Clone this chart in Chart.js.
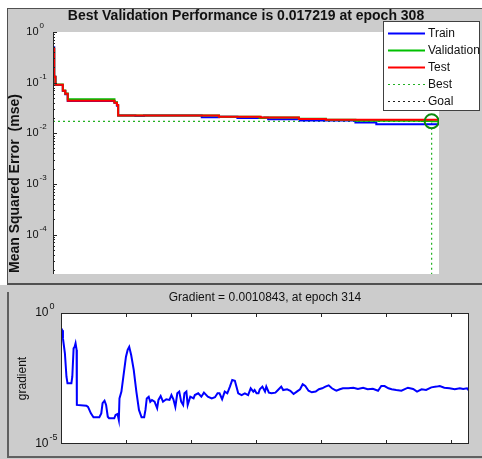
<!DOCTYPE html>
<html>
<head>
<meta charset="utf-8">
<title>Best Validation Performance</title>
<script src="https://cdn.jsdelivr.net/npm/chart.js@4.4.0/dist/chart.umd.min.js"></script>
<style>
    html, body { margin: 0; padding: 0; background: #ffffff; }
    body { position: relative; width: 482px; height: 459px; overflow: hidden; }
    .panel { position: absolute; background: #cccccc; box-sizing: border-box; }
    #top-panel { left: 7px; top: 8px; width: 475px; height: 276px; border-top: 1px solid #505050; border-left: 1px solid #505050; }
    #divider { position: absolute; left: 7px; top: 283px; width: 475px; height: 2px; background: #505050; }
    #bottom-panel { left: 0; top: 285px; width: 482px; height: 174px; }
    #bottom-frame { position: absolute; left: 7px; top: 292px; width: 475px; height: 166px; box-sizing: border-box; border-left: 2px solid #606060; border-bottom: 2px solid #606060; }
    canvas { position: absolute; left: 0; }
    #perf-chart { top: 0; }
    #grad-chart { top: 285px; }
</style>
</head>
<body>
<div class="panel" id="top-panel"></div>
<div class="panel" id="bottom-panel"></div>
<div id="bottom-frame"></div>
<canvas id="perf-chart" width="482" height="283"></canvas>
<div id="divider"></div>
<canvas id="grad-chart" width="482" height="174"></canvas>

<script>
// ---- Performance data (stepped: value holds until the next epoch listed) ----
const trainEpochs = [0, 1, 2, 8, 10, 12, 50, 52, 53, 67, 74, 121, 135, 150, 169, 175, 201, 246, 263, 314];
const trainPerf   = [0.50, 0.13, 0.090, 0.068, 0.059, 0.0435, 0.040, 0.035, 0.0223, 0.0219, 0.0223, 0.0206, 0.0212, 0.0201, 0.0203, 0.0190, 0.0178, 0.0163, 0.0150, 0.0149];

const valEpochs = [0, 1, 2, 8, 10, 12, 50, 52, 53, 135, 168, 172, 200, 222, 246, 300, 308, 314];
const valPerf   = [0.46, 0.13, 0.092, 0.070, 0.061, 0.047, 0.041, 0.036, 0.0225, 0.0213, 0.0201, 0.0204, 0.0193, 0.0184, 0.0176, 0.0174, 0.017219, 0.0173];

const testEpochs = [0, 1, 2, 8, 10, 12, 50, 52, 53, 135, 169, 200, 222, 314];
const testPerf   = [0.47, 0.13, 0.091, 0.069, 0.060, 0.0437, 0.040, 0.036, 0.0224, 0.0213, 0.0204, 0.0192, 0.0184, 0.0183];

const bestEpoch = 308;
const bestPerf = 0.017219;
const lastEpoch = 314;

// ---- Gradient data ----
const gradEpochs = [
    0, 1, 1.5, 3, 4.2, 5, 8, 8.7, 9.7, 10.5, 11.2, 12, 12.2, 19.5, 20.8, 23, 25, 29.5, 31, 32,
    33.5, 34.7, 36, 37, 41, 42, 43.5, 44.5, 45, 46.5, 48, 50, 51.3, 52.5, 54, 56, 58, 60, 62, 64,
    65, 66, 67.5, 68.7, 70, 72, 74, 75, 76.7, 78.5, 81, 83.5, 85, 86.5, 88, 89.5, 91, 92.5, 94, 95,
    96.5, 97.5, 99.5, 102, 103, 105.6, 108, 110, 113, 116, 118.5, 120.5, 122, 124, 126, 128, 130, 131.8, 133.8, 135,
    136.4, 139, 141.5, 144, 146, 148, 149, 150.5, 152, 153, 155, 157, 158, 160, 162, 165, 167, 169.5, 171, 174,
    176.5, 179, 181.5, 184, 186, 188, 190.5, 193, 196, 198.5, 201, 203.5, 206, 208.5, 211, 212, 214.6, 217, 221, 225,
    228.5, 232.5, 236, 240, 244, 246.5, 249, 252, 254.5, 258, 262, 267, 271, 274, 277.5, 281, 285, 289, 291.5, 295,
    299, 303, 307, 309.5, 312.5, 314
];
const gradValues = [
    0.27, 0.22, 0.108, 0.029, 0.0037, 0.0021, 0.0021, 0.0037, 0.045, 0.051, 0.069, 0.039, 0.00031, 0.00029, 0.00026, 0.000148, 0.000105, 0.000105, 0.000148, 0.00036,
    0.00045, 0.00031, 0.00011, 0.000096, 0.000096, 0.000128, 0.00014, 0.000083, 0.00055, 0.001, 0.0037, 0.0215, 0.039, 0.051, 0.025, 0.0066, 0.001, 0.0002, 0.000105, 0.000105,
    0.0002, 0.00055, 0.00064, 0.00041, 0.00048, 0.00041, 0.00023, 0.00048, 0.00068, 0.00041, 0.00051, 0.00048, 0.00074, 0.00051, 0.00026, 0.00086, 0.001, 0.00041, 0.00031, 0.00086,
    0.001, 0.00031, 0.00064, 0.00055, 0.00074, 0.00086, 0.00064, 0.00091, 0.00064, 0.00055, 0.00061, 0.00086, 0.00086, 0.00051, 0.001, 0.00086, 0.00155, 0.00277, 0.0026, 0.00155,
    0.00086, 0.00074, 0.00086, 0.00074, 0.00134, 0.001, 0.00115, 0.00086, 0.00086, 0.00123, 0.00155, 0.001, 0.00155, 0.00091, 0.00086, 0.00091, 0.00115, 0.00155, 0.00115, 0.00123,
    0.00108, 0.00081, 0.001, 0.00123, 0.0019, 0.00163, 0.00108, 0.00094, 0.001, 0.00123, 0.00134, 0.00155, 0.00174, 0.00134, 0.00115, 0.00108, 0.00123, 0.00134, 0.00134, 0.00141,
    0.00126, 0.00141, 0.00123, 0.00129, 0.00108, 0.00163, 0.00163, 0.00134, 0.00123, 0.00115, 0.00108, 0.00141, 0.00126, 0.001, 0.00123, 0.00115, 0.00145, 0.00155, 0.00163, 0.00141,
    0.00134, 0.00123, 0.00134, 0.00126, 0.00134, 0.00108
];

// Tick labels are shown as 10^exponent
const perfTickExponents = [0, -1, -2, -3, -4];
const gradTickExponents = [0, -5];
const gradTickEpochs = [50, 100, 150, 200, 250, 300];

const FONT = '"Liberation Sans", Arial, sans-serif';
const AXIS_COLOR = '#262626';
const TEXT_COLOR = '#111111';

function toPoints(xs, ys) {
    return xs.map((x, i) => ({ x: x, y: ys[i] }));
}

// Draw a "10" with a raised exponent, right edge of the "10" at x
function drawPowerLabel(ctx, exponent, x, y, baseSize, expSize) {
    ctx.fillStyle = TEXT_COLOR;
    ctx.textBaseline = 'middle';
    ctx.font = baseSize + 'px ' + FONT;
    ctx.textAlign = 'right';
    ctx.fillText('10', x, y);
    ctx.font = expSize + 'px ' + FONT;
    ctx.textAlign = 'left';
    ctx.fillText(String(exponent), x + 1, y - baseSize * 0.55);
}

// Fill the axes area white before datasets are drawn
const whiteAxes = {
    id: 'whiteAxes',
    beforeDraw(chart) {
        const { ctx, chartArea: a } = chart;
        ctx.save();
        ctx.fillStyle = '#ffffff';
        ctx.fillRect(a.left, a.top, a.right - a.left, a.bottom - a.top);
        ctx.restore();
    }
};

// Axis line, minor ticks, labels, title and legend of the performance plot
const perfDecor = {
    id: 'perfDecor',
    afterDraw(chart) {
        const { ctx, chartArea: a } = chart;
        const yScale = chart.scales.y;
        ctx.save();

        // left axis line
        ctx.strokeStyle = AXIS_COLOR;
        ctx.lineWidth = 1;
        ctx.beginPath();
        ctx.moveTo(a.left + 0.5, a.top);
        ctx.lineTo(a.left + 0.5, a.bottom);
        ctx.stroke();

        // major and minor ticks pointing inwards
        for (let e = -5; e <= 0; e++) {
            for (let k = 1; k <= 9; k++) {
                const v = k * Math.pow(10, e);
                if (v < yScale.min || v > yScale.max) continue;
                const y = Math.round(yScale.getPixelForValue(v)) + 0.5;
                const len = k === 1 ? 4 : 2;
                ctx.beginPath();
                ctx.moveTo(a.left, y);
                ctx.lineTo(a.left + len, y);
                ctx.stroke();
            }
        }

        perfTickExponents.forEach(e => {
            drawPowerLabel(ctx, e, 38.5, yScale.getPixelForValue(Math.pow(10, e)), 11, 8);
        });

        // title
        ctx.fillStyle = TEXT_COLOR;
        ctx.font = 'bold 14px ' + FONT;
        ctx.textAlign = 'center';
        ctx.textBaseline = 'middle';
        ctx.fillText('Best Validation Performance is 0.017219 at epoch 308', (a.left + a.right) / 2, 16);

        // y title, starts at the bottom edge like the cut-off original
        ctx.save();
        ctx.translate(15, a.bottom - 1);
        ctx.rotate(-Math.PI / 2);
        ctx.textAlign = 'left';
        ctx.fillText('Mean Squared Error  (mse)', 0, 0);
        ctx.restore();

        // legend box
        const box = { left: 383.5, top: 21.5, width: 96, height: 89 };
        ctx.fillStyle = '#ffffff';
        ctx.fillRect(box.left, box.top, box.width, box.height);
        ctx.strokeStyle = '#404040';
        ctx.lineWidth = 1;
        ctx.strokeRect(box.left, box.top, box.width, box.height);

        const items = chart.data.datasets.filter(d => d.inLegend);
        ctx.font = '12px ' + FONT;
        ctx.textAlign = 'left';
        items.forEach((d, i) => {
            const y = 33 + i * 17;
            ctx.strokeStyle = d.borderColor;
            ctx.lineWidth = d.borderDash ? 1.2 : 2;
            ctx.setLineDash(d.borderDash || []);
            ctx.beginPath();
            ctx.moveTo(388, y + 0.5);
            ctx.lineTo(425, y + 0.5);
            ctx.stroke();
            ctx.setLineDash([]);
            ctx.fillStyle = TEXT_COLOR;
            ctx.fillText(d.label, 428, y + 1);
        });

        ctx.restore();
    }
};

// Box, ticks and labels of the gradient plot
const gradDecor = {
    id: 'gradDecor',
    afterDraw(chart) {
        const { ctx, chartArea: a } = chart;
        const xScale = chart.scales.x;
        const yScale = chart.scales.y;
        ctx.save();

        ctx.strokeStyle = AXIS_COLOR;
        ctx.lineWidth = 1;
        ctx.strokeRect(a.left + 0.5, a.top + 0.5, a.right - a.left - 1, a.bottom - a.top - 1);

        gradTickEpochs.forEach(ep => {
            const x = Math.round(xScale.getPixelForValue(ep)) + 0.5;
            ctx.beginPath();
            ctx.moveTo(x, a.bottom);
            ctx.lineTo(x, a.bottom - 4);
            ctx.moveTo(x, a.top);
            ctx.lineTo(x, a.top + 4);
            ctx.stroke();
        });

        gradTickExponents.forEach(e => {
            drawPowerLabel(ctx, e, 48.5, yScale.getPixelForValue(Math.pow(10, e)), 12, 9);
        });

        ctx.fillStyle = TEXT_COLOR;
        ctx.font = '12px ' + FONT;
        ctx.textAlign = 'center';
        ctx.textBaseline = 'middle';
        ctx.fillText('Gradient = 0.0010843, at epoch 314', (a.left + a.right) / 2, 13);

        ctx.save();
        ctx.translate(23, (a.top + a.bottom) / 2);
        ctx.rotate(-Math.PI / 2);
        ctx.fillText('gradient', 0, 0);
        ctx.restore();

        ctx.restore();
    }
};

function renderPerformanceChart() {
    const ctx = document.getElementById('perf-chart').getContext('2d');
    const yMin = Math.pow(10, -4.78);

    new Chart(ctx, {
        type: 'line',
        data: {
            datasets: [
                {
                    label: 'Train',
                    data: toPoints(trainEpochs, trainPerf),
                    borderColor: '#0000ff',
                    borderWidth: 2,
                    stepped: true,
                    order: 3,
                    inLegend: true
                },
                {
                    label: 'Validation',
                    data: toPoints(valEpochs, valPerf),
                    borderColor: '#00c000',
                    borderWidth: 2,
                    stepped: true,
                    order: 2,
                    inLegend: true
                },
                {
                    label: 'Test',
                    data: toPoints(testEpochs, testPerf),
                    borderColor: '#ff0000',
                    borderWidth: 2,
                    stepped: true,
                    order: 1,
                    inLegend: true
                },
                {
                    label: 'Best',
                    data: [
                        { x: 0, y: bestPerf },
                        { x: bestEpoch, y: bestPerf },
                        { x: bestEpoch, y: yMin }
                    ],
                    borderColor: '#22b022',
                    borderWidth: 1.2,
                    borderDash: [2, 3],
                    order: 4,
                    inLegend: true
                },
                {
                    label: 'Goal',
                    data: [],
                    borderColor: '#202020',
                    borderWidth: 1.2,
                    borderDash: [2, 3],
                    order: 5,
                    inLegend: true
                },
                {
                    label: 'Best point',
                    type: 'scatter',
                    data: [{ x: bestEpoch, y: bestPerf }],
                    pointRadius: 7,
                    pointBorderWidth: 2,
                    pointBorderColor: '#0c8a0c',
                    pointBackgroundColor: 'rgba(0,0,0,0)',
                    order: 0,
                    inLegend: false
                }
            ]
        },
        options: {
            responsive: false,
            animation: false,
            events: [],
            elements: { point: { radius: 0 }, line: { tension: 0 } },
            layout: { padding: { left: 53, top: 32, right: 43, bottom: 0 } },
            plugins: { legend: { display: false }, tooltip: { enabled: false }, title: { display: false } },
            scales: {
                x: { type: 'linear', min: 0, max: lastEpoch, display: false },
                y: { type: 'logarithmic', min: yMin, max: 1, display: false }
            }
        },
        plugins: [whiteAxes, perfDecor]
    });
}

function renderGradientChart() {
    const ctx = document.getElementById('grad-chart').getContext('2d');

    new Chart(ctx, {
        type: 'line',
        data: {
            datasets: [{
                label: 'gradient',
                data: toPoints(gradEpochs, gradValues),
                borderColor: '#0000ff',
                borderWidth: 2,
                pointRadius: 0,
                tension: 0
            }]
        },
        options: {
            responsive: false,
            animation: false,
            events: [],
            layout: { padding: { left: 61, top: 28, right: 13, bottom: 15 } },
            plugins: { legend: { display: false }, tooltip: { enabled: false }, title: { display: false } },
            scales: {
                x: { type: 'linear', min: 0, max: lastEpoch, display: false },
                y: { type: 'logarithmic', min: 1e-5, max: 1, display: false }
            }
        },
        plugins: [whiteAxes, gradDecor]
    });
}

renderPerformanceChart();
renderGradientChart();
</script>
</body>
</html>
